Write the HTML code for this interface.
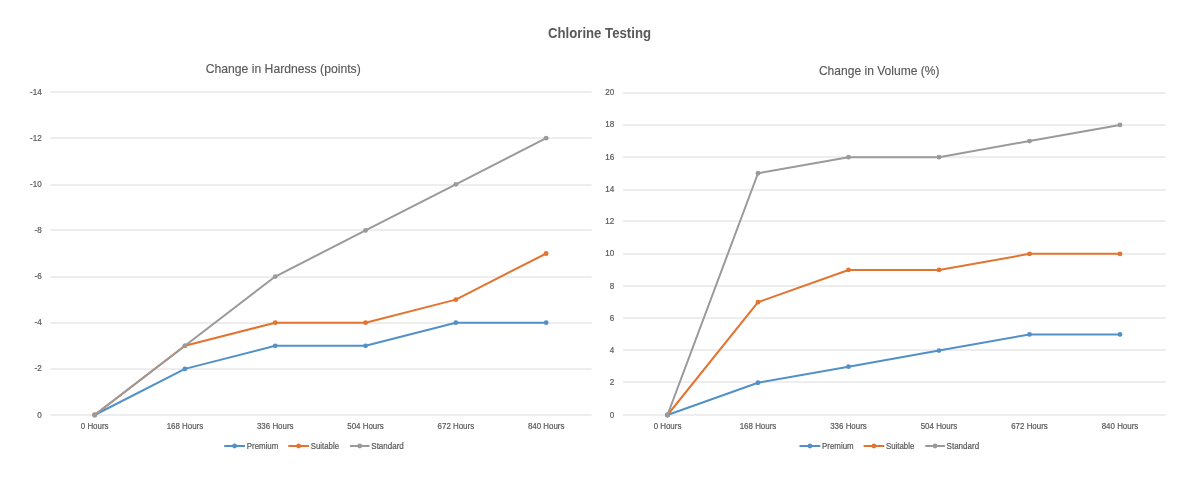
<!DOCTYPE html>
<html><head><meta charset="utf-8"><style>
html,body{margin:0;padding:0;background:#fff;width:1200px;height:485px;overflow:hidden}
svg{display:block;font-family:"Liberation Sans", sans-serif;will-change:transform}
</style></head><body>
<svg width="1200" height="485" viewBox="0 0 1200 485">
<rect width="1200" height="485" fill="#fff"/>
<text x="548.00" y="38.00" font-size="15.2" text-anchor="start" font-weight="bold" fill="#595959" textLength="103.00" lengthAdjust="spacingAndGlyphs">Chlorine Testing</text>
<line x1="50.3" y1="92" x2="591.7" y2="92" stroke="#DCDCDC" stroke-width="1"/>
<text x="41.70" y="94.55" font-size="8.8" text-anchor="end" font-weight="normal" fill="#595959" stroke="#595959" stroke-width="0.2" textLength="11.70" lengthAdjust="spacingAndGlyphs">-14</text>
<line x1="50.3" y1="138" x2="591.7" y2="138" stroke="#DCDCDC" stroke-width="1"/>
<text x="41.70" y="140.69" font-size="8.8" text-anchor="end" font-weight="normal" fill="#595959" stroke="#595959" stroke-width="0.2" textLength="11.70" lengthAdjust="spacingAndGlyphs">-12</text>
<line x1="50.3" y1="185" x2="591.7" y2="185" stroke="#DCDCDC" stroke-width="1"/>
<text x="41.70" y="186.84" font-size="8.8" text-anchor="end" font-weight="normal" fill="#595959" stroke="#595959" stroke-width="0.2" textLength="11.70" lengthAdjust="spacingAndGlyphs">-10</text>
<line x1="50.3" y1="230" x2="591.7" y2="230" stroke="#DCDCDC" stroke-width="1"/>
<text x="41.70" y="232.98" font-size="8.8" text-anchor="end" font-weight="normal" fill="#595959" stroke="#595959" stroke-width="0.2" textLength="7.20" lengthAdjust="spacingAndGlyphs">-8</text>
<line x1="50.3" y1="277" x2="591.7" y2="277" stroke="#DCDCDC" stroke-width="1"/>
<text x="41.70" y="279.12" font-size="8.8" text-anchor="end" font-weight="normal" fill="#595959" stroke="#595959" stroke-width="0.2" textLength="7.20" lengthAdjust="spacingAndGlyphs">-6</text>
<line x1="50.3" y1="323" x2="591.7" y2="323" stroke="#DCDCDC" stroke-width="1"/>
<text x="41.70" y="325.26" font-size="8.8" text-anchor="end" font-weight="normal" fill="#595959" stroke="#595959" stroke-width="0.2" textLength="7.20" lengthAdjust="spacingAndGlyphs">-4</text>
<line x1="50.3" y1="369" x2="591.7" y2="369" stroke="#DCDCDC" stroke-width="1"/>
<text x="41.70" y="371.41" font-size="8.8" text-anchor="end" font-weight="normal" fill="#595959" stroke="#595959" stroke-width="0.2" textLength="7.20" lengthAdjust="spacingAndGlyphs">-2</text>
<line x1="50.3" y1="415" x2="591.7" y2="415" stroke="#DCDCDC" stroke-width="1"/>
<text x="41.70" y="417.55" font-size="8.8" text-anchor="end" font-weight="normal" fill="#595959" stroke="#595959" stroke-width="0.2" textLength="4.50" lengthAdjust="spacingAndGlyphs">0</text>
<text x="94.65" y="428.80" font-size="8.8" text-anchor="middle" font-weight="normal" fill="#595959" stroke="#595959" stroke-width="0.2" textLength="27.73" lengthAdjust="spacingAndGlyphs">0 Hours</text>
<text x="184.95" y="428.80" font-size="8.8" text-anchor="middle" font-weight="normal" fill="#595959" stroke="#595959" stroke-width="0.2" textLength="36.54" lengthAdjust="spacingAndGlyphs">168 Hours</text>
<text x="275.25" y="428.80" font-size="8.8" text-anchor="middle" font-weight="normal" fill="#595959" stroke="#595959" stroke-width="0.2" textLength="36.54" lengthAdjust="spacingAndGlyphs">336 Hours</text>
<text x="365.55" y="428.80" font-size="8.8" text-anchor="middle" font-weight="normal" fill="#595959" stroke="#595959" stroke-width="0.2" textLength="36.54" lengthAdjust="spacingAndGlyphs">504 Hours</text>
<text x="455.85" y="428.80" font-size="8.8" text-anchor="middle" font-weight="normal" fill="#595959" stroke="#595959" stroke-width="0.2" textLength="36.54" lengthAdjust="spacingAndGlyphs">672 Hours</text>
<text x="546.15" y="428.80" font-size="8.8" text-anchor="middle" font-weight="normal" fill="#595959" stroke="#595959" stroke-width="0.2" textLength="36.54" lengthAdjust="spacingAndGlyphs">840 Hours</text>
<polyline points="94.65,415.00 184.95,368.86 275.25,345.79 365.55,345.79 455.85,322.71 546.15,322.71" fill="none" stroke="#5290C8" stroke-width="2" stroke-linejoin="round" stroke-linecap="round"/>
<circle cx="94.65" cy="415.00" r="2.4" fill="#5290C8"/>
<circle cx="184.95" cy="368.86" r="2.4" fill="#5290C8"/>
<circle cx="275.25" cy="345.79" r="2.4" fill="#5290C8"/>
<circle cx="365.55" cy="345.79" r="2.4" fill="#5290C8"/>
<circle cx="455.85" cy="322.71" r="2.4" fill="#5290C8"/>
<circle cx="546.15" cy="322.71" r="2.4" fill="#5290C8"/>
<polyline points="94.65,415.00 184.95,345.79 275.25,322.71 365.55,322.71 455.85,299.64 546.15,253.50" fill="none" stroke="#E2742F" stroke-width="2" stroke-linejoin="round" stroke-linecap="round"/>
<circle cx="94.65" cy="415.00" r="2.4" fill="#E2742F"/>
<circle cx="184.95" cy="345.79" r="2.4" fill="#E2742F"/>
<circle cx="275.25" cy="322.71" r="2.4" fill="#E2742F"/>
<circle cx="365.55" cy="322.71" r="2.4" fill="#E2742F"/>
<circle cx="455.85" cy="299.64" r="2.4" fill="#E2742F"/>
<circle cx="546.15" cy="253.50" r="2.4" fill="#E2742F"/>
<polyline points="94.65,415.00 184.95,345.79 275.25,276.57 365.55,230.43 455.85,184.29 546.15,138.14" fill="none" stroke="#9A9A9A" stroke-width="2" stroke-linejoin="round" stroke-linecap="round"/>
<circle cx="94.65" cy="415.00" r="2.4" fill="#9A9A9A"/>
<circle cx="184.95" cy="345.79" r="2.4" fill="#9A9A9A"/>
<circle cx="275.25" cy="276.57" r="2.4" fill="#9A9A9A"/>
<circle cx="365.55" cy="230.43" r="2.4" fill="#9A9A9A"/>
<circle cx="455.85" cy="184.29" r="2.4" fill="#9A9A9A"/>
<circle cx="546.15" cy="138.14" r="2.4" fill="#9A9A9A"/>
<line x1="224.20" y1="446" x2="245.00" y2="446" stroke="#5290C8" stroke-width="2"/>
<circle cx="234.60" cy="446" r="2.4" fill="#5290C8"/>
<text x="246.80" y="448.60" font-size="8.4" text-anchor="start" font-weight="normal" fill="#595959" stroke="#595959" stroke-width="0.2" textLength="31.50" lengthAdjust="spacingAndGlyphs">Premium</text>
<line x1="288.30" y1="446" x2="309.00" y2="446" stroke="#E2742F" stroke-width="2"/>
<circle cx="298.65" cy="446" r="2.4" fill="#E2742F"/>
<text x="310.70" y="448.60" font-size="8.4" text-anchor="start" font-weight="normal" fill="#595959" stroke="#595959" stroke-width="0.2" textLength="28.30" lengthAdjust="spacingAndGlyphs">Suitable</text>
<line x1="349.90" y1="446" x2="369.60" y2="446" stroke="#9A9A9A" stroke-width="2"/>
<circle cx="359.75" cy="446" r="2.4" fill="#9A9A9A"/>
<text x="371.30" y="448.60" font-size="8.4" text-anchor="start" font-weight="normal" fill="#595959" stroke="#595959" stroke-width="0.2" textLength="32.50" lengthAdjust="spacingAndGlyphs">Standard</text>
<text x="205.70" y="72.90" font-size="13" text-anchor="start" font-weight="normal" fill="#595959" stroke="#595959" stroke-width="0.15" textLength="155.00" lengthAdjust="spacingAndGlyphs">Change in Hardness (points)</text>
<line x1="623.0" y1="93" x2="1165.8" y2="93" stroke="#DCDCDC" stroke-width="1"/>
<text x="614.20" y="95.25" font-size="8.8" text-anchor="end" font-weight="normal" fill="#595959" stroke="#595959" stroke-width="0.2" textLength="9.01" lengthAdjust="spacingAndGlyphs">20</text>
<line x1="623.0" y1="125" x2="1165.8" y2="125" stroke="#DCDCDC" stroke-width="1"/>
<text x="614.20" y="127.48" font-size="8.8" text-anchor="end" font-weight="normal" fill="#595959" stroke="#595959" stroke-width="0.2" textLength="9.01" lengthAdjust="spacingAndGlyphs">18</text>
<line x1="623.0" y1="157" x2="1165.8" y2="157" stroke="#DCDCDC" stroke-width="1"/>
<text x="614.20" y="159.71" font-size="8.8" text-anchor="end" font-weight="normal" fill="#595959" stroke="#595959" stroke-width="0.2" textLength="9.01" lengthAdjust="spacingAndGlyphs">16</text>
<line x1="623.0" y1="190" x2="1165.8" y2="190" stroke="#DCDCDC" stroke-width="1"/>
<text x="614.20" y="191.94" font-size="8.8" text-anchor="end" font-weight="normal" fill="#595959" stroke="#595959" stroke-width="0.2" textLength="9.01" lengthAdjust="spacingAndGlyphs">14</text>
<line x1="623.0" y1="221" x2="1165.8" y2="221" stroke="#DCDCDC" stroke-width="1"/>
<text x="614.20" y="224.17" font-size="8.8" text-anchor="end" font-weight="normal" fill="#595959" stroke="#595959" stroke-width="0.2" textLength="9.01" lengthAdjust="spacingAndGlyphs">12</text>
<line x1="623.0" y1="254" x2="1165.8" y2="254" stroke="#DCDCDC" stroke-width="1"/>
<text x="614.20" y="256.40" font-size="8.8" text-anchor="end" font-weight="normal" fill="#595959" stroke="#595959" stroke-width="0.2" textLength="9.01" lengthAdjust="spacingAndGlyphs">10</text>
<line x1="623.0" y1="286" x2="1165.8" y2="286" stroke="#DCDCDC" stroke-width="1"/>
<text x="614.20" y="288.63" font-size="8.8" text-anchor="end" font-weight="normal" fill="#595959" stroke="#595959" stroke-width="0.2" textLength="4.50" lengthAdjust="spacingAndGlyphs">8</text>
<line x1="623.0" y1="318" x2="1165.8" y2="318" stroke="#DCDCDC" stroke-width="1"/>
<text x="614.20" y="320.86" font-size="8.8" text-anchor="end" font-weight="normal" fill="#595959" stroke="#595959" stroke-width="0.2" textLength="4.50" lengthAdjust="spacingAndGlyphs">6</text>
<line x1="623.0" y1="350" x2="1165.8" y2="350" stroke="#DCDCDC" stroke-width="1"/>
<text x="614.20" y="353.09" font-size="8.8" text-anchor="end" font-weight="normal" fill="#595959" stroke="#595959" stroke-width="0.2" textLength="4.50" lengthAdjust="spacingAndGlyphs">4</text>
<line x1="623.0" y1="382" x2="1165.8" y2="382" stroke="#DCDCDC" stroke-width="1"/>
<text x="614.20" y="385.32" font-size="8.8" text-anchor="end" font-weight="normal" fill="#595959" stroke="#595959" stroke-width="0.2" textLength="4.50" lengthAdjust="spacingAndGlyphs">2</text>
<line x1="623.0" y1="415" x2="1165.8" y2="415" stroke="#DCDCDC" stroke-width="1"/>
<text x="614.20" y="417.55" font-size="8.8" text-anchor="end" font-weight="normal" fill="#595959" stroke="#595959" stroke-width="0.2" textLength="4.50" lengthAdjust="spacingAndGlyphs">0</text>
<text x="667.50" y="428.80" font-size="8.8" text-anchor="middle" font-weight="normal" fill="#595959" stroke="#595959" stroke-width="0.2" textLength="27.73" lengthAdjust="spacingAndGlyphs">0 Hours</text>
<text x="758.00" y="428.80" font-size="8.8" text-anchor="middle" font-weight="normal" fill="#595959" stroke="#595959" stroke-width="0.2" textLength="36.54" lengthAdjust="spacingAndGlyphs">168 Hours</text>
<text x="848.50" y="428.80" font-size="8.8" text-anchor="middle" font-weight="normal" fill="#595959" stroke="#595959" stroke-width="0.2" textLength="36.54" lengthAdjust="spacingAndGlyphs">336 Hours</text>
<text x="939.00" y="428.80" font-size="8.8" text-anchor="middle" font-weight="normal" fill="#595959" stroke="#595959" stroke-width="0.2" textLength="36.54" lengthAdjust="spacingAndGlyphs">504 Hours</text>
<text x="1029.50" y="428.80" font-size="8.8" text-anchor="middle" font-weight="normal" fill="#595959" stroke="#595959" stroke-width="0.2" textLength="36.54" lengthAdjust="spacingAndGlyphs">672 Hours</text>
<text x="1120.00" y="428.80" font-size="8.8" text-anchor="middle" font-weight="normal" fill="#595959" stroke="#595959" stroke-width="0.2" textLength="36.54" lengthAdjust="spacingAndGlyphs">840 Hours</text>
<polyline points="667.50,415.00 758.00,382.77 848.50,366.65 939.00,350.54 1029.50,334.43 1120.00,334.43" fill="none" stroke="#5290C8" stroke-width="2" stroke-linejoin="round" stroke-linecap="round"/>
<circle cx="667.50" cy="415.00" r="2.4" fill="#5290C8"/>
<circle cx="758.00" cy="382.77" r="2.4" fill="#5290C8"/>
<circle cx="848.50" cy="366.65" r="2.4" fill="#5290C8"/>
<circle cx="939.00" cy="350.54" r="2.4" fill="#5290C8"/>
<circle cx="1029.50" cy="334.43" r="2.4" fill="#5290C8"/>
<circle cx="1120.00" cy="334.43" r="2.4" fill="#5290C8"/>
<polyline points="667.50,415.00 758.00,302.19 848.50,269.97 939.00,269.97 1029.50,253.85 1120.00,253.85" fill="none" stroke="#E2742F" stroke-width="2" stroke-linejoin="round" stroke-linecap="round"/>
<circle cx="667.50" cy="415.00" r="2.4" fill="#E2742F"/>
<circle cx="758.00" cy="302.19" r="2.4" fill="#E2742F"/>
<circle cx="848.50" cy="269.97" r="2.4" fill="#E2742F"/>
<circle cx="939.00" cy="269.97" r="2.4" fill="#E2742F"/>
<circle cx="1029.50" cy="253.85" r="2.4" fill="#E2742F"/>
<circle cx="1120.00" cy="253.85" r="2.4" fill="#E2742F"/>
<polyline points="667.50,415.00 758.00,173.27 848.50,157.16 939.00,157.16 1029.50,141.05 1120.00,124.93" fill="none" stroke="#9A9A9A" stroke-width="2" stroke-linejoin="round" stroke-linecap="round"/>
<circle cx="667.50" cy="415.00" r="2.4" fill="#9A9A9A"/>
<circle cx="758.00" cy="173.27" r="2.4" fill="#9A9A9A"/>
<circle cx="848.50" cy="157.16" r="2.4" fill="#9A9A9A"/>
<circle cx="939.00" cy="157.16" r="2.4" fill="#9A9A9A"/>
<circle cx="1029.50" cy="141.05" r="2.4" fill="#9A9A9A"/>
<circle cx="1120.00" cy="124.93" r="2.4" fill="#9A9A9A"/>
<line x1="799.50" y1="446" x2="820.30" y2="446" stroke="#5290C8" stroke-width="2"/>
<circle cx="809.90" cy="446" r="2.4" fill="#5290C8"/>
<text x="822.10" y="448.60" font-size="8.4" text-anchor="start" font-weight="normal" fill="#595959" stroke="#595959" stroke-width="0.2" textLength="31.50" lengthAdjust="spacingAndGlyphs">Premium</text>
<line x1="863.60" y1="446" x2="884.30" y2="446" stroke="#E2742F" stroke-width="2"/>
<circle cx="873.95" cy="446" r="2.4" fill="#E2742F"/>
<text x="886.00" y="448.60" font-size="8.4" text-anchor="start" font-weight="normal" fill="#595959" stroke="#595959" stroke-width="0.2" textLength="28.30" lengthAdjust="spacingAndGlyphs">Suitable</text>
<line x1="925.20" y1="446" x2="944.90" y2="446" stroke="#9A9A9A" stroke-width="2"/>
<circle cx="935.05" cy="446" r="2.4" fill="#9A9A9A"/>
<text x="946.60" y="448.60" font-size="8.4" text-anchor="start" font-weight="normal" fill="#595959" stroke="#595959" stroke-width="0.2" textLength="32.50" lengthAdjust="spacingAndGlyphs">Standard</text>
<text x="818.90" y="75.00" font-size="13" text-anchor="start" font-weight="normal" fill="#595959" stroke="#595959" stroke-width="0.15" textLength="120.60" lengthAdjust="spacingAndGlyphs">Change in Volume (%)</text>
</svg>
</body></html>
